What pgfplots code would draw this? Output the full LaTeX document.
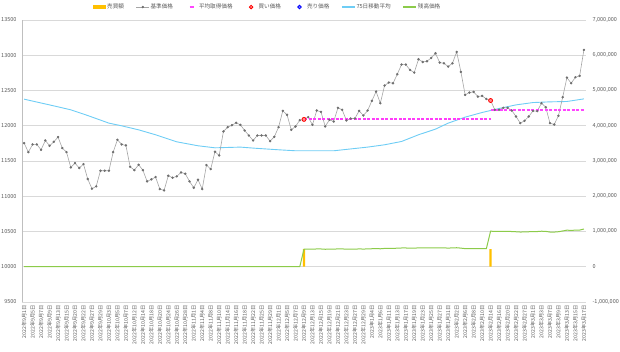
\documentclass[border=0pt]{standalone}
\usepackage{fontspec}
\setmainfont{Noto Sans CJK JP}
\usepackage{pgfplots}
\pgfplotsset{compat=1.18}
\definecolor{orangec}{HTML}{FFC000}
\definecolor{grayline}{HTML}{A5A5A5}
\definecolor{graymark}{HTML}{6F6F6F}
\definecolor{avgpink}{RGB}{255,70,255}
\definecolor{avgpinkb}{RGB}{255,60,250}
\definecolor{redc}{HTML}{FF0000}
\definecolor{redfill}{HTML}{FF8C8C}
\definecolor{bluec}{HTML}{0000FF}
\definecolor{mac}{HTML}{6ECDF5}
\definecolor{balgreen}{HTML}{8CCB4A}
\definecolor{gridc}{HTML}{D9D9D9}
\definecolor{axisc}{HTML}{BFBFBF}
\definecolor{textc}{HTML}{595959}
\pgfplotsset{
  linelegend/.style={legend image code/.code={\path[draw=none,fill=none] (0pt,-2pt) rectangle (13pt,2pt);\draw[mark repeat=2,mark phase=2,##1] plot coordinates {(0pt,0pt)(6.5pt,0pt)(13pt,0pt)};}},
  marklegend/.style={legend image code/.code={\path[draw=none,fill=none] (0pt,-2pt) rectangle (13pt,2pt);\draw[##1] plot coordinates {(6.5pt,0pt)};}},
}
\begin{document}
\begin{tikzpicture}
\useasboundingbox (-22pt,-50pt) rectangle (598pt,302pt);
\begin{axis}[
  scale only axis, width=564pt, height=282pt,
  xmin=-0.5, xmax=132.5, ymin=9500, ymax=13500,
  axis lines*=left,
  x axis line style={draw=none},
  y axis line style={draw=axisc, line width=0.8pt},
  major tick length=0pt,
  scaled y ticks=false,
  ytick={9500,10000,10500,11000,11500,12000,12500,13000,13500},
  ymajorgrids, grid style={draw=gridc, line width=0.6pt},
  xtick={0,2,...,132},
  xticklabels={2022年9月1日,2022年9月5日,2022年9月7日,2022年9月9日,2022年9月13日,2022年9月15日,2022年9月20日,2022年9月22日,2022年9月27日,2022年9月29日,2022年10月3日,2022年10月5日,2022年10月7日,2022年10月12日,2022年10月14日,2022年10月18日,2022年10月20日,2022年10月24日,2022年10月26日,2022年10月28日,2022年11月1日,2022年11月4日,2022年11月8日,2022年11月10日,2022年11月14日,2022年11月16日,2022年11月18日,2022年11月22日,2022年11月25日,2022年11月29日,2022年12月1日,2022年12月5日,2022年12月7日,2022年12月9日,2022年12月13日,2022年12月15日,2022年12月19日,2022年12月21日,2022年12月23日,2022年12月27日,2022年12月29日,2023年1月4日,2023年1月6日,2023年1月11日,2023年1月13日,2023年1月17日,2023年1月19日,2023年1月23日,2023年1月25日,2023年1月27日,2023年1月31日,2023年2月2日,2023年2月6日,2023年2月8日,2023年2月10日,2023年2月14日,2023年2月16日,2023年2月20日,2023年2月22日,2023年2月27日,2023年3月1日,2023年3月3日,2023年3月7日,2023年3月9日,2023年3月13日,2023年3月15日,2023年3月17日},
  xticklabel style={rotate=90, anchor=east, font=\fontsize{5.2}{6}\selectfont, text=textc},
  yticklabel style={font=\fontsize{5.5}{6}\selectfont, text=textc, xshift=-2pt, /pgf/number format/1000 sep={}},
  /pgf/number format/assume math mode=true,
]
\addplot[draw=mac, line width=0.9pt] coordinates {(0,12377) (7,12282) (11,12226) (15,12145) (20,12037) (23,11999) (27,11942) (31,11872) (36,11772) (41,11716) (45,11687) (51,11697) (54,11683) (60,11659) (64,11645) (70,11645) (73,11645) (81,11697) (85,11730) (89,11777) (93,11872) (97,11952) (100,12037) (104,12122) (108,12188) (112,12245) (116,12296) (120,12329) (124,12339) (128,12344) (132,12381)};
\addplot[draw=grayline, line width=0.6pt, mark=*, mark size=0.9pt, mark options={fill=graymark, draw=graymark}] coordinates {
(0,11754) (1,11626) (2,11735) (3,11735) (4,11659) (5,11791) (6,11716) (7,11772) (8,11839) (9,11683)
(10,11626) (11,11409) (12,11470) (13,11400) (14,11456) (15,11244) (16,11107) (17,11140) (18,11362) (19,11362)
(20,11362) (21,11626) (22,11801) (23,11735) (24,11721) (25,11418) (26,11371) (27,11447) (28,11371) (29,11211)
(30,11239) (31,11272) (32,11102) (33,11083) (34,11291) (35,11263) (36,11282) (37,11338) (38,11319) (39,11211)
(40,11121) (41,11234) (42,11102) (43,11442) (44,11385) (45,11631) (46,11579) (47,11919) (48,11980) (49,12008)
(50,12042) (51,12013) (52,11933) (53,11862) (54,11791) (55,11862) (56,11862) (57,11862) (58,11782) (59,11843)
(60,11980) (61,12211) (62,12155) (63,11942) (64,11990) (65,12079) (66,12090) (67,12122) (68,12013) (69,12216)
(70,12197) (71,11990) (72,12084) (73,12060) (74,12254) (75,12226) (76,12075) (77,12103) (78,12103) (79,12211)
(80,12145) (81,12216) (82,12353) (83,12485) (84,12320) (85,12570) (86,12613) (87,12603) (88,12731) (89,12868)
(90,12868) (91,12792) (92,12754) (93,12943) (94,12905) (95,12915) (96,12962) (97,13028) (98,12896) (99,12886)
(100,12839) (101,12886) (102,13047) (103,12764) (104,12438) (105,12471) (106,12480) (107,12414) (108,12424) (109,12380)
(110,12358) (111,12226) (112,12226) (113,12254) (114,12254) (115,12216) (116,12131) (117,12037) (118,12070) (119,12131)
(120,12211) (121,12207) (122,12320) (123,12263) (124,12037) (125,12018) (126,12141) (127,12405) (128,12683) (129,12603)
(130,12688) (131,12707) (132,13075)};
\addplot[color=avgpinkb, line width=1.7pt, dash pattern=on 3pt off 1.5pt, mark=none] coordinates {(66,12093) (110,12093)};
\addplot[color=avgpink, line width=1.6pt, dash pattern=on 3pt off 1.5pt, mark=none] coordinates {(110,12226) (132,12226)};
\addplot[only marks, mark=*, mark size=2pt, mark options={draw=redc, fill=redfill, line width=0.8pt}] coordinates {(66,12090) (110,12358)};
\end{axis}
\begin{axis}[
  scale only axis, width=564pt, height=282pt,
  xmin=-0.5, xmax=132.5, ymin=-1000000, ymax=7000000,
  axis y line*=right, axis x line=none,
  y axis line style={draw=none},
  major tick length=0pt,
  ytick={-1000000,0,1000000,2000000,3000000,4000000,5000000,6000000,7000000},
  scaled y ticks=false,
  yticklabel style={font=\fontsize{5.5}{6}\selectfont, text=textc, xshift=3pt, /pgf/number format/fixed, /pgf/number format/1000 sep={,}},
  /pgf/number format/assume math mode=true,
  legend columns=-1,
  legend style={at={(0.1206,1.046)}, anchor=west, draw=none, fill=none,
    font=\fontsize{5.6}{6}\selectfont, text=textc,
    nodes={inner sep=1pt},
    /tikz/every even column/.append style={column sep=11pt}},
]
\addplot[ybar, bar width=2.2pt, fill=orangec, draw=none,
  legend image code/.code={\path[draw=none,fill=none] (0pt,-2pt) rectangle (13pt,2pt);\fill[orangec] (0pt,-1.6pt) rectangle (13pt,1.6pt);}]
  coordinates {(66,500000) (110,500000)};
\addlegendentry{売買額}
\addlegendimage{linelegend, draw=grayline, line width=0.6pt, mark=*, mark size=0.9pt, mark options={fill=graymark, draw=graymark}}
\addlegendentry{基準価格}
\addlegendimage{legend image code/.code={\path[draw=none,fill=none] (0pt,-2pt) rectangle (13pt,2pt);\draw[draw=avgpink, line width=1.4pt] (4.5pt,0pt)--(8.5pt,0pt);}}
\addlegendentry{平均取得価格}
\addlegendimage{marklegend, only marks, mark=*, mark size=1.8pt, mark options={draw=redc, fill=redfill, line width=0.8pt}}
\addlegendentry{買い価格}
\addlegendimage{marklegend, only marks, mark=*, mark size=1.8pt, mark options={draw=bluec, fill=bluec!50!white, line width=0.8pt}}
\addlegendentry{売り価格}
\addlegendimage{legend image code/.code={\path[draw=none,fill=none] (0pt,-2pt) rectangle (13pt,2pt);\draw[draw=mac, line width=1.1pt] (0pt,0pt)--(13pt,0pt);}}
\addlegendentry{75日移動平均}
\addplot[color=balgreen, draw=balgreen, line width=1pt,
  legend image code/.code={\path[draw=none,fill=none] (0pt,-2pt) rectangle (13pt,2pt);\draw[draw=balgreen, line width=1.2pt] (0pt,0pt)--(13pt,0pt);}] coordinates {
(0,0) (65,0) (66,500000) (67,501330) (68,496820) (69,505220)
(70,504430) (71,495870) (72,499760) (73,498770) (74,506790) (75,505630) (76,499390) (77,500540) (78,500540) (79,505010)
(80,502280) (81,505220) (82,510880) (83,516340) (84,509520) (85,519860) (86,521640) (87,521220) (88,526520) (89,532180)
(90,532180) (91,529040) (92,527470) (93,535280) (94,533710) (95,534130) (96,536070) (97,538800) (98,533340) (99,532930)
(100,530980) (101,532930) (102,539590) (103,527880) (104,514400) (105,515760) (106,516140) (107,513410) (108,513820) (109,512000)
(110,1011130) (111,1000330) (112,1000330) (113,1002620) (114,1002620) (115,999510) (116,992560) (117,984870) (118,987570) (119,992560)
(120,999100) (121,998780) (122,1008020) (123,1003360) (124,984870) (125,983310) (126,993380) (127,1014980) (128,1037720) (129,1031170)
(130,1038130) (131,1039690) (132,1069800)};
\addlegendentry{残高価格}
\end{axis}
\end{tikzpicture}
\end{document}
